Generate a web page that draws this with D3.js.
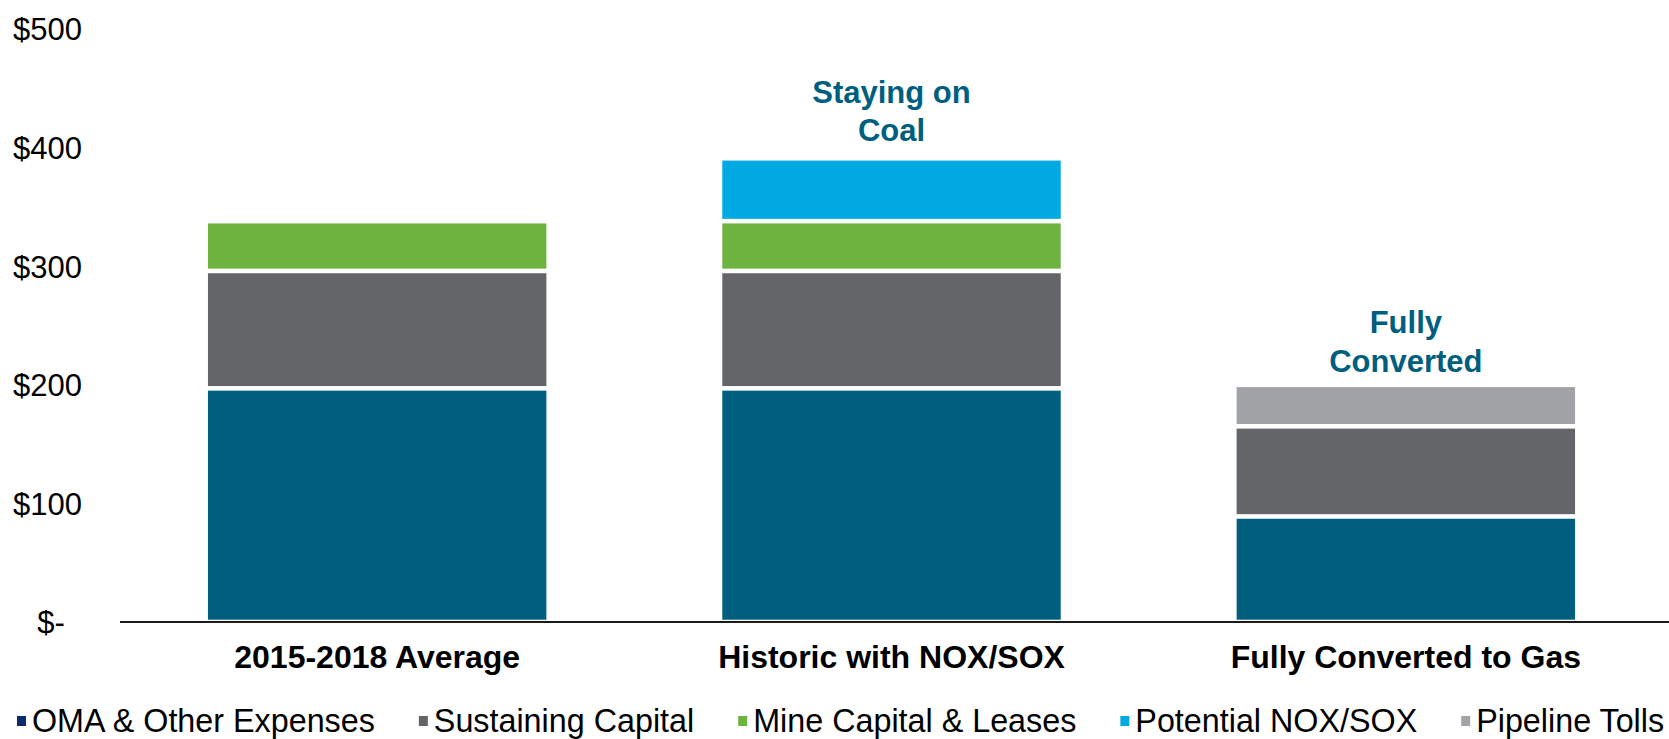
<!DOCTYPE html>
<html>
<head>
<meta charset="utf-8">
<script src="https://cdn.jsdelivr.net/npm/d3@7"></script>
<style>
  html, body { margin: 0; padding: 0; background: #ffffff; }
  svg { display: block; font-family: "Liberation Sans", Arial, sans-serif; }
</style>
</head>
<body>
<svg id="chart" width="1669" height="739"></svg>
<script>
// Cost scenarios ($ millions), stacked by cost component
const categories = ["2015-2018 Average", "Historic with NOX/SOX", "Fully Converted to Gas"];
const seriesNames = ["OMA & Other Expenses", "Sustaining Capital", "Mine Capital & Leases", "Potential NOX/SOX", "Pipeline Tolls"];
const omaValues = [197, 197, 89];
const sustainingValues = [99, 99, 76];
const mineValues = [42, 42, 0];
const noxValues = [0, 53, 0];
const pipelineValues = [0, 0, 35];
const yTickValues = [0, 100, 200, 300, 400, 500];
const yTickLabels = ["$-", "$100", "$200", "$300", "$400", "$500"];
const annotationCategories = ["Historic with NOX/SOX", "Fully Converted to Gas"];
const annotationLines = [["Staying on", "Coal"], ["Fully", "Converted"]];

const barColors = ["#005f7f", "#646569", "#6db33f", "#00a9e2", "#a2a3a7"];
const legendColors = ["#0c2b6e", "#646569", "#6db33f", "#00a9e2", "#a2a3a7"];
const annotationColor = "#005f7f";

const svg = d3.select("#chart");
const width = 1669, height = 739;
const plot = { left: 120, right: 1663, top: 29, bottom: 622 };

const rows = categories.map((c, i) => ({
  category: c,
  [seriesNames[0]]: omaValues[i],
  [seriesNames[1]]: sustainingValues[i],
  [seriesNames[2]]: mineValues[i],
  [seriesNames[3]]: noxValues[i],
  [seriesNames[4]]: pipelineValues[i]
}));

const stacked = d3.stack().keys(seriesNames)(rows);

const x = d3.scaleBand()
  .domain(categories)
  .range([plot.left, plot.right])
  .paddingInner(0.342)
  .paddingOuter(0.171);

const y = d3.scaleLinear()
  .domain([0, 500])
  .range([plot.bottom, plot.top]);

const color = d3.scaleOrdinal().domain(seriesNames).range(barColors);

// White separation between stacked segments
const gap = 4.6;

svg.append("g")
  .selectAll("g")
  .data(stacked)
  .join("g")
  .attr("fill", d => color(d.key))
  .selectAll("rect")
  .data(d => d.filter(s => s[1] - s[0] > 0))
  .join("rect")
  .attr("x", d => x(d.data.category))
  .attr("width", x.bandwidth())
  .attr("y", d => y(d[1]) + gap / 2)
  .attr("height", d => Math.max(0, y(d[0]) - y(d[1]) - gap));

// Baseline
svg.append("line")
  .attr("x1", plot.left)
  .attr("x2", width)
  .attr("y1", y(0))
  .attr("y2", y(0))
  .attr("stroke", "#1a1a1a")
  .attr("stroke-width", 2);

// Y axis labels
const yAxis = d3.axisLeft(y)
  .tickValues(yTickValues)
  .tickFormat((d, i) => yTickLabels[i])
  .tickSize(0)
  .tickPadding(38);

const yg = svg.append("g")
  .attr("transform", `translate(${plot.left},0)`)
  .call(yAxis);
yg.select(".domain").remove();
yg.selectAll("text")
  .attr("font-family", "Liberation Sans, Arial, sans-serif")
  .attr("font-size", 31)
  .attr("fill", "#000")
  .attr("dy", "0.35em")
  .attr("dx", d => d === 0 ? "-0.556em" : 0);

// Category labels
const xAxis = d3.axisBottom(x).tickSize(0).tickPadding(0);
const xg = svg.append("g")
  .attr("transform", `translate(0,${plot.bottom})`)
  .call(xAxis);
xg.select(".domain").remove();
xg.selectAll("text")
  .attr("font-family", "Liberation Sans, Arial, sans-serif")
  .attr("font-size", 32)
  .attr("font-weight", "bold")
  .attr("fill", "#000")
  .attr("y", 46)
  .attr("dy", 0);

// Scenario annotations above bars
const totals = new Map(rows.map(r => [r.category, d3.sum(seriesNames, k => r[k])]));
annotationCategories.forEach((cat, i) => {
  const cx = x(cat) + x.bandwidth() / 2;
  const lines = annotationLines[i];
  const offset = i === 0 ? 17 : 13;
  const t = svg.append("text")
    .attr("text-anchor", "middle")
    .attr("font-size", 31)
    .attr("font-weight", "bold")
    .attr("fill", annotationColor);
  lines.forEach((ln, j) => {
    t.append("tspan")
      .attr("x", cx)
      .attr("y", y(totals.get(cat)) - offset - (lines.length - 1 - j) * 38.5)
      .text(ln);
  });
});

// Legend
const legend = svg.append("g").attr("transform", "translate(17,732)");
let lx = 0;
const itemGap = 44;
seriesNames.forEach((name, i) => {
  const g = legend.append("g").attr("transform", `translate(${lx},0)`);
  g.append("rect")
    .attr("x", 0)
    .attr("y", -16)
    .attr("width", 9)
    .attr("height", 10)
    .attr("fill", legendColors[i]);
  const t = g.append("text")
    .attr("x", 15)
    .attr("y", 0)
    .attr("font-size", 32.3)
    .attr("fill", "#000")
    .text(name);
  lx += 15 + t.node().getComputedTextLength() + itemGap;
});
</script>
</body>
</html>
